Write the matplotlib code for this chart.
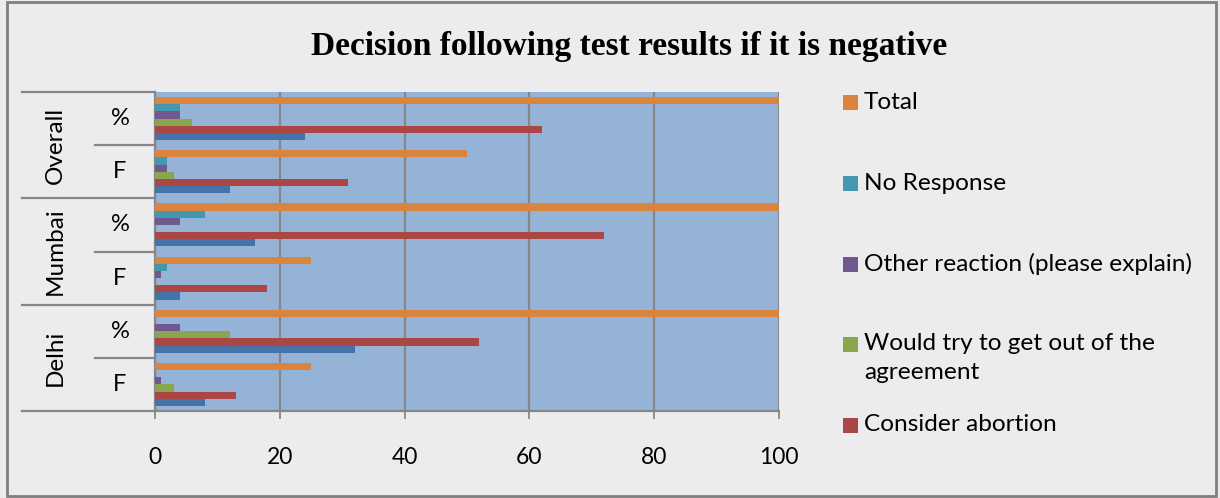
import matplotlib
matplotlib.use("Agg")
import matplotlib.pyplot as plt
import numpy as np
from matplotlib.patches import Rectangle

# ---- data ----
cities = ["Delhi", "Mumbai", "Overall"]
sub_labels = ["F", "%"]
# row order bottom -> top: Delhi F, Delhi %, Mumbai F, Mumbai %, Overall F, Overall %
series_names = ["Continue pregnancy", "Consider abortion",
                "Would try to get out of the\nagreement",
                "Other reaction (please explain)", "No Response", "Total"]
continue_preg = [8, 32, 4, 16, 12, 24]
consider_abortion = [13, 52, 18, 72, 31, 62]
get_out = [3, 12, 0, 0, 3, 6]
other_reaction = [1, 4, 1, 4, 2, 4]
no_response = [0, 0, 2, 8, 2, 4]
total = [25, 100, 25, 100, 50, 100]
x_ticks = [0, 20, 40, 60, 80, 100]

colors = ["#4572A7", "#AA4643", "#89A54E", "#71588F", "#4198AF", "#DB843D"]
series = [continue_preg, consider_abortion, get_out, other_reaction, no_response, total]

W, H = 1220, 498
fig = plt.figure(figsize=(W / 100, H / 100), dpi=100)
fig.patch.set_facecolor("#ECECEE")

L, R, T, B = 155, 779, 92, 411
ax = fig.add_axes([L / W, 1 - B / H, (R - L) / W, (B - T) / H])
ax.set_facecolor("#95B3D7")

n_rows = len(total)
y = np.arange(n_rows)
h = 0.135
for i, (vals, c) in enumerate(zip(series, colors)):
    ax.barh(y + (i - 2.5) * h, vals, height=h, color=c, zorder=3,
            label=series_names[i])

FONT = "Lato"
ax.set_xlim(0, 100)
ax.set_ylim(-0.5, n_rows - 0.5)
ax.set_xticks(x_ticks)
ax.set_xticklabels([str(v) for v in x_ticks], fontfamily=FONT, fontsize=16.5)
ax.tick_params(axis="x", length=6, width=1.3, color="#868686", pad=20)
ax.set_yticks([])
ax.grid(axis="x", color="#868686", linewidth=1.6, zorder=1)
for s in ["top", "right"]:
    ax.spines[s].set_visible(False)
for s in ["left", "bottom"]:
    ax.spines[s].set_color("#868686")
    ax.spines[s].set_linewidth(1.6)

# two-level category axis
axw = R - L
full_x = (22 - L) / axw
half_x = (95 - L) / axw
trans = ax.get_yaxis_transform()
for b in [-0.5, 1.5, 3.5, 5.5]:
    ax.plot([full_x, 0], [b, b], transform=trans, color="#868686",
            linewidth=1.6, clip_on=False)
for b in [0.5, 2.5, 4.5]:
    ax.plot([half_x, 0], [b, b], transform=trans, color="#868686",
            linewidth=1.6, clip_on=False)
inner_x = (120 - L) / axw
outer_x = (55 - L) / axw
for k in range(n_rows):
    ax.text(inner_x, k, sub_labels[k % 2], transform=trans, ha="center",
            va="center", fontfamily=FONT, fontsize=17)
for j, city in enumerate(cities):
    ax.text(outer_x, 2 * j + 0.5, city, transform=trans, ha="center",
            va="center", rotation=90, fontfamily=FONT, fontsize=17.5)

# title
fig.text(629 / W, 1 - 46 / H, "Decision following test results if it is negative",
         ha="center", va="center", fontfamily="Liberation Serif",
         fontweight="bold", fontsize=24)

# legend (first series is not shown in the reference's legend)
leg_order = [5, 4, 3, 2, 1]
leg_y = [103, 184, 264, 344, 425]
for idx, yy in zip(leg_order, leg_y):
    fig.patches.append(Rectangle((843 / W, 1 - (yy + 7.5) / H), 15 / W, 15 / H,
                                 transform=fig.transFigure,
                                 facecolor=colors[idx], edgecolor="none"))
    fig.text(864 / W, 1 - (yy - 11) / H, series_names[idx], ha="left", va="top",
             fontfamily=FONT, fontsize=17.6, linespacing=1.45,
             transform=fig.transFigure)

# outer border
fig.patches.append(Rectangle((7 / W, 2 / H), (1216 - 7) / W, (496 - 2) / H,
                             transform=fig.transFigure, fill=False,
                             edgecolor="#7F7F7F", linewidth=2))

fig.savefig("out.png", dpi=100)
